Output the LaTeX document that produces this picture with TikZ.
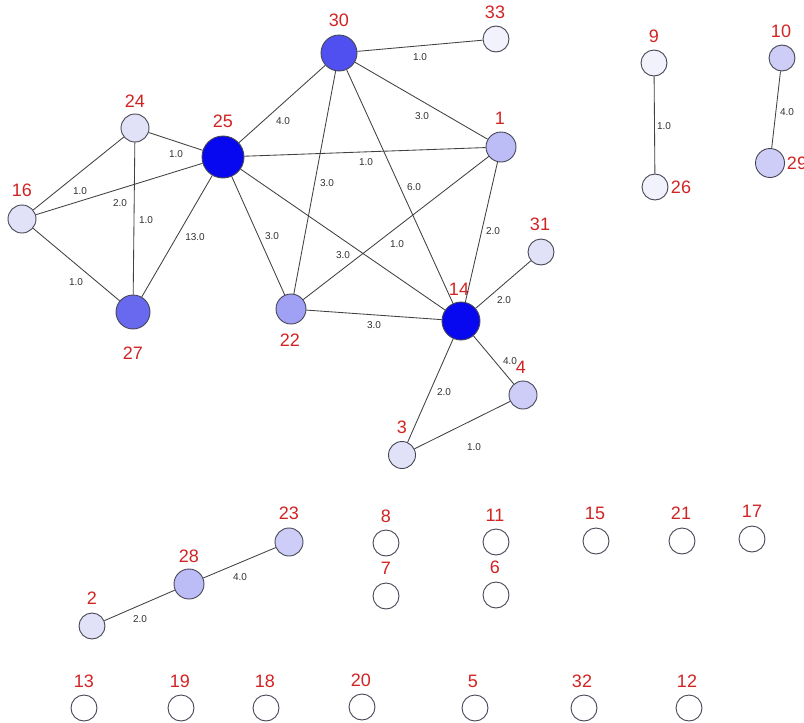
\documentclass[tikz,border=0pt]{standalone}
\usepackage{fontspec}
\setmainfont{Liberation Sans}
\definecolor{labred}{RGB}{210,35,35}
\definecolor{bord}{RGB}{70,70,85}
\definecolor{edgec}{RGB}{65,65,65}
\definecolor{wtxt}{RGB}{50,50,50}
\definecolor{c1}{RGB}{8,8,240}
\definecolor{c2}{RGB}{80,80,240}
\definecolor{c3}{RGB}{105,105,240}
\definecolor{c4}{RGB}{160,160,245}
\definecolor{c5}{RGB}{188,188,246}
\definecolor{c6}{RGB}{205,205,247}
\definecolor{c7}{RGB}{225,225,248}
\definecolor{c8}{RGB}{242,242,252}
\tikzset{
  vtx/.style={circle,draw=bord,line width=0.9pt,inner sep=0pt},
  lab/.style={text=labred,font=\fontsize{18}{18}\selectfont,inner sep=0pt},
  wt/.style={text=wtxt,font=\fontsize{10}{10}\selectfont,inner sep=0pt},
  edge/.style={draw=edgec,line width=0.85pt}
}
\newcommand\gn[5]{\node[vtx,minimum size=#4pt,fill=#5] (n#1) at (#2,#3) {};}
\newcommand\gl[3]{\node[lab] (t#1) at (#2,#3) {#1};}
\begin{document}
\begin{tikzpicture}[x=1pt,y=-1pt]
\useasboundingbox[fill=white] (0,0) rectangle (804,723);
% nodes
\gn{25}{223}{157}{42}{c1}
\gn{14}{461}{321}{38}{c1}
\gn{30}{339}{53}{36}{c2}
\gn{27}{133}{312}{34}{c3}
\gn{22}{291}{309}{30}{c4}
\gn{1}{501}{147}{30}{c5}
\gn{24}{135}{128}{28}{c7}
\gn{16}{22}{219}{28}{c7}
\gn{33}{496}{39}{26}{c8}
\gn{31}{541}{252}{26}{c7}
\gn{4}{523}{395}{28}{c6}
\gn{3}{402}{455}{27}{c7}
\gn{9}{654}{63}{26}{c8}
\gn{26}{655}{187}{26}{c8}
\gn{10}{782}{58}{26}{c6}
\gn{29}{770}{163}{29}{c6}
\gn{23}{289}{542}{28}{c6}
\gn{28}{189}{584}{30}{c5}
\gn{2}{92}{626}{26}{c7}
\gn{8}{386}{543}{26}{white}
\gn{7}{386}{596}{26}{white}
\gn{11}{496}{542}{26}{white}
\gn{6}{496}{595}{26}{white}
\gn{15}{596}{541}{26}{white}
\gn{21}{682}{541}{26}{white}
\gn{17}{752}{539}{26}{white}
\gn{13}{84}{708}{26}{white}
\gn{19}{181}{708}{26}{white}
\gn{18}{266}{708}{26}{white}
\gn{20}{362}{707}{26}{white}
\gn{5}{475}{708}{26}{white}
\gn{32}{584}{708}{26}{white}
\gn{12}{689}{708}{26}{white}
% labels
\gl{25}{223}{121}
\gl{14}{459}{289}
\gl{30}{339}{20}
\gl{27}{133}{353}
\gl{22}{290}{340}
\gl{1}{500}{118}
\gl{24}{135}{101}
\gl{16}{22}{190}
\gl{33}{495}{12}
\gl{31}{540}{224}
\gl{4}{521}{367}
\gl{3}{402}{427}
\gl{9}{654}{36}
\gl{26}{681}{187}
\gl{10}{781}{31}
\gl{29}{797}{163}
\gl{23}{289}{513}
\gl{28}{189}{556}
\gl{2}{92}{598}
\gl{8}{386}{516}
\gl{7}{386}{568}
\gl{11}{495}{515}
\gl{6}{495}{567}
\gl{15}{595}{513}
\gl{21}{681}{513}
\gl{17}{752}{511}
\gl{13}{84}{681}
\gl{19}{180}{681}
\gl{18}{265}{681}
\gl{20}{361}{680}
\gl{5}{473}{681}
\gl{32}{582}{681}
\gl{12}{687}{681}
% edges
\draw[edge] (n24) -- (n25);
\draw[edge] (n16) -- (n24);
\draw[edge] (n16) -- (n25);
\draw[edge] (n24) -- (n27);
\draw[edge] (n25) -- (n27);
\draw[edge] (n16) -- (n27);
\draw[edge] (n25) -- (n22);
\draw[edge] (n25) -- (n30);
\draw[edge] (n25) -- (n1);
\draw[edge] (n25) -- (n14);
\draw[edge] (n30) -- (n33);
\draw[edge] (n30) -- (n1);
\draw[edge] (n30) -- (n22);
\draw[edge] (n30) -- (n14);
\draw[edge] (n1) -- (n22);
\draw[edge] (n1) -- (n14);
\draw[edge] (n22) -- (n14);
\draw[edge] (n14) -- (n31);
\draw[edge] (n14) -- (n4);
\draw[edge] (n14) -- (n3);
\draw[edge] (n3) -- (n4);
\draw[edge] (n9) -- (n26);
\draw[edge] (n10) -- (n29);
\draw[edge] (n28) -- (n23);
\draw[edge] (n2) -- (n28);
% weights
\node[wt] (w1) at (176,154) {1.0};
\node[wt] (w2) at (80,191) {1.0};
\node[wt] (w3) at (120,203) {2.0};
\node[wt] (w4) at (146,220) {1.0};
\node[wt] (w5) at (195,237) {13.0};
\node[wt] (w6) at (76,282) {1.0};
\node[wt] (w7) at (272,236) {3.0};
\node[wt] (w8) at (283,121) {4.0};
\node[wt] (w9) at (366,162) {1.0};
\node[wt] (w10) at (397,244) {1.0};
\node[wt] (w11) at (420,57) {1.0};
\node[wt] (w12) at (422,116) {3.0};
\node[wt] (w13) at (327,183) {3.0};
\node[wt] (w14) at (414,187) {6.0};
\node[wt] (w15) at (343,255) {3.0};
\node[wt] (w16) at (493,231) {2.0};
\node[wt] (w17) at (374,325) {3.0};
\node[wt] (w18) at (504,300) {2.0};
\node[wt] (w19) at (510,361) {4.0};
\node[wt] (w20) at (444,392) {2.0};
\node[wt] (w21) at (474,447) {1.0};
\node[wt] (w22) at (664,126) {1.0};
\node[wt] (w23) at (787,112) {4.0};
\node[wt] (w24) at (240,577) {4.0};
\node[wt] (w25) at (140,619) {2.0};
\end{tikzpicture}
\end{document}
